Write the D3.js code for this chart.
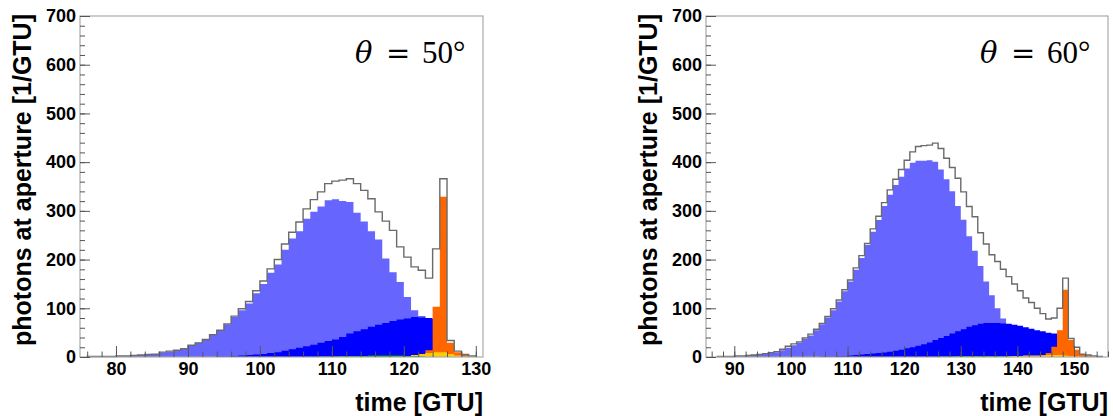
<!DOCTYPE html>
<html>
<head>
<meta charset="utf-8">
<script src="https://cdn.jsdelivr.net/npm/d3@7"></script>
<style>
  body { margin: 0; background: #fff; }
  svg { display: block; }
</style>
</head>
<body>
<div id="chart"></div>
<script>
// photons at aperture per GTU, 1-GTU bins, two zenith angles

// theta = 50 deg, bins start at 76
var bins50Start = 76;
var lightBlue50 = [1,1,1,1,2,2,3,4,5,6, 9,11,14,17,24,29,36,46,55,67,
    82,96,110,131,150,173,190,220,243,258, 284,298,309,322,324,320,318,296,278,258,
    241,202,174,154,123,96,84,70,50,30, 0,0,0,0];
var darkBlue50 = [0,0,0,0,0,0,0,0,0,0, 0,0,0,0,0,0,0,0,1,1,
    2,3,4,5,6,8,10,13,16,19, 22,25,29,33,36,41,48,53,57,62,
    66,70,74,77,79,82,81,80,78,40, 0,0,0,0];
var orange50 = [0,0,0,0,0,0,0,0,0,0, 0,0,0,0,0,0,0,0,0,0,
    0,0,0,0,0,0,0,0,0,0, 0,0,0,0,0,0,0,0,0,0,
    0,0,0,0,0,2,6,14,103,329, 29,10,4,1];
var yellow50 = [0,0,0,0,0,0,0,0,0,0, 0,0,0,0,0,0,0,0,0,0,
    0,0,0,0,0,0,0,0,0,0, 0,0,0,0,0,0,0,0,0,0,
    0,0,0,1,2,4,6,8,10,10, 6,3,1,0];
var green50 = [0,0,0,0,0,0,0,0,0,0, 0,0,0,0,0,0,0,0,0,0,
    0,0,0,0,0,0,0,0,0,0, 0,0,1,1,1,2,2,2,2,3,
    3,3,3,3,2,2,1,0,0,0, 0,0,0,0];
var total50 = [1,1,1,1,2,2,3,4,5,6, 10,12,14,17,24,29,36,46,55,68,
    84,99,114,136,156,181,200,232,256,277, 304,323,339,356,361,363,366,356,342,325,
    298,279,260,226,205,185,178,162,222,366, 34,12,5,2];

// theta = 60 deg, bins start at 87
var bins60Start = 87;
var lightBlue60 = [1,1,1,2,2,3,4,5,6,8, 10,14,19,24,30,37,44,55,67,81,
    96,114,135,155,179,203,230,257,281,310, 333,353,370,387,399,403,403,404,401,385,
    365,340,310,282,248,218,187,155,127,100, 79,60,45,32,22,14,8,4,2,0,
    0,0,0,0,0,0,0,0];
var darkBlue60 = [0,0,0,0,0,0,0,0,0,0, 0,0,0,0,0,0,0,0,1,1,
    1,2,2,3,4,5,6,7,8,9, 11,13,15,18,20,23,26,30,35,39,
    43,48,53,57,62,65,68,70,70,70, 69,68,66,64,61,58,55,53,50,48,
    40,0,0,0,0,0,0,0];
var orange60 = [0,0,0,0,0,0,0,0,0,0, 0,0,0,0,0,0,0,0,0,0,
    0,0,0,0,0,0,0,0,0,0, 0,0,0,0,0,0,0,0,0,0,
    0,0,0,0,0,0,0,0,0,0, 0,0,0,0,0,0,2,4,8,21,
    55,138,35,15,6,3,1,0];
var yellow60 = [0,0,0,0,0,0,0,0,0,0, 0,0,0,0,0,0,0,0,0,0,
    0,0,0,0,0,0,0,0,0,0, 0,0,0,0,0,0,0,0,0,0,
    0,0,0,0,0,0,0,0,0,1, 1,2,2,2,3,3,3,3,4,4,
    4,3,2,1,0,0,0,0];
var green60 = [0,0,0,0,0,0,0,0,0,0, 0,0,0,0,0,0,0,0,0,0,
    0,0,0,0,0,0,0,0,0,0, 0,0,0,0,0,0,0,0,0,1,
    1,1,2,2,2,2,2,2,2,2, 1,1,0,0,0,0,0,0,0,0,
    0,0,0,0,0,0,0,0];
var total60 = [1,1,1,2,2,3,4,5,7,9, 11,16,22,27,31,39,47,57,69,83,
    99,117,138,158,183,208,233,263,289,317, 343,365,385,404,421,432,434,435,439,428,
    408,389,367,339,309,288,255,232,210,196, 180,165,150,136,121,112,100,89,78,80,
    100,162,38,20,6,4,2,1];

var yTicks = [0, 100, 200, 300, 400, 500, 600, 700];
var xTicks50 = [80, 90, 100, 110, 120, 130];
var xTicks60 = [90, 100, 110, 120, 130, 140, 150];
var angleLabels = ["50", "60"];

var svgWidth = 1113;
var svgHeight = 416;

var svg = d3.select("#chart")
    .append("svg")
    .attr("width", svgWidth)
    .attr("height", svgHeight);

var panels = [
    { left: 80, right: 483, domain: [75, 131], start: bins50Start, xTicks: xTicks50, angle: angleLabels[0],
      layers: [lightBlue50, darkBlue50, orange50, yellow50, green50], total: total50 },
    { left: 706, right: 1108, domain: [85, 156], start: bins60Start, xTicks: xTicks60, angle: angleLabels[1],
      layers: [lightBlue60, darkBlue60, orange60, yellow60, green60], total: total60 }
];

var layerColors = ["#6666ff", "#0000ff", "#ff6600", "#ffcc00", "#00a000"];
var plotTop = 16, plotBottom = 357;
var tickFont = "'Liberation Sans', Arial, Helvetica, sans-serif";

panels.forEach(function(p) {
    var x = d3.scaleLinear().domain(p.domain).range([p.left, p.right]);
    var y = d3.scaleLinear().domain([0, 700]).range([plotBottom, plotTop]);

    var g = svg.append("g");

    // filled histograms, drawn over each other
    var area = d3.area()
        .x(d => x(d[0]))
        .y0(y(0))
        .y1(d => y(d[1]))
        .curve(d3.curveStepAfter);

    p.layers.forEach(function(vals, k) {
        var pts = vals.map((v, i) => [p.start + i, v]);
        pts.push([p.start + vals.length, vals[vals.length - 1]]);
        g.append("path")
            .attr("d", area(pts))
            .attr("fill", layerColors[k]);
    });

    // total as open outline
    var line = d3.line()
        .x(d => x(d[0]))
        .y(d => y(d[1]))
        .curve(d3.curveStepAfter);
    var tp = [[p.start, 0]].concat(p.total.map((v, i) => [p.start + i, v]));
    var end = p.start + p.total.length;
    tp.push([end, p.total[p.total.length - 1]]);
    tp.push([end, 0]);
    g.append("path")
        .attr("d", line(tp))
        .attr("fill", "none")
        .attr("stroke", "#6a6a6a")
        .attr("stroke-width", 1.4);

    // frame
    g.append("rect")
        .attr("x", p.left)
        .attr("y", plotTop)
        .attr("width", p.right - p.left)
        .attr("height", plotBottom - plotTop)
        .attr("fill", "none")
        .attr("stroke", "#aaa")
        .attr("stroke-width", 1.2);

    // y axis, ticks pointing inside
    var yMinor = d3.range(0, 701, 20);
    g.append("g")
        .attr("transform", `translate(${p.left},0)`)
        .call(d3.axisLeft(y).tickValues(yMinor).tickSize(-5).tickFormat(""))
        .call(a => a.select(".domain").remove());
    var yAxis = g.append("g")
        .attr("transform", `translate(${p.left},0)`)
        .call(d3.axisLeft(y).tickValues(yTicks).tickSize(-10).tickPadding(4))
        .call(a => a.select(".domain").remove());
    yAxis.selectAll("text")
        .attr("font-family", tickFont)
        .attr("font-weight", "bold")
        .attr("font-size", 18)
        .attr("fill", "#000");

    // x axis
    var xMinor = d3.range(Math.ceil(p.domain[0] / 2) * 2, p.domain[1] + 0.01, 2);
    g.append("g")
        .attr("transform", `translate(0,${plotBottom})`)
        .call(d3.axisBottom(x).tickValues(xMinor).tickSize(-5.5).tickFormat(""))
        .call(a => a.select(".domain").remove());
    var xAxis = g.append("g")
        .attr("transform", `translate(0,${plotBottom})`)
        .call(d3.axisBottom(x).tickValues(p.xTicks).tickSize(-11).tickPadding(5))
        .call(a => a.select(".domain").remove());
    xAxis.selectAll("text")
        .attr("font-family", tickFont)
        .attr("font-weight", "bold")
        .attr("font-size", 18)
        .attr("fill", "#000");

    g.selectAll(".tick line").attr("stroke", "#555");

    // axis titles
    g.append("text")
        .attr("x", p.right)
        .attr("y", 411)
        .attr("text-anchor", "end")
        .attr("font-family", tickFont)
        .attr("font-weight", "bold")
        .attr("font-size", 25)
        .text("time [GTU]");

    g.append("text")
        .attr("transform", `translate(${p.left - 49},14) rotate(-90)`)
        .attr("text-anchor", "end")
        .attr("font-family", tickFont)
        .attr("font-weight", "bold")
        .attr("font-size", 25)
        .text("photons at aperture [1/GTU]");

    // angle label
    var lab = g.append("text")
        .attr("y", 63)
        .attr("font-size", 29)
        .attr("fill", "#000");
    lab.append("tspan")
        .attr("x", p.right - 128)
        .attr("font-family", "'DejaVu Serif', serif")
        .attr("font-style", "italic")
        .text("θ");
    lab.append("tspan")
        .attr("x", p.right - 97)
        .attr("font-family", "'DejaVu Serif', serif")
        .text("=");
    lab.append("tspan")
        .attr("x", p.right - 61)
        .attr("font-family", "'Liberation Serif', serif")
        .attr("font-size", 31)
        .text(p.angle + "°");
});
</script>
</body>
</html>
